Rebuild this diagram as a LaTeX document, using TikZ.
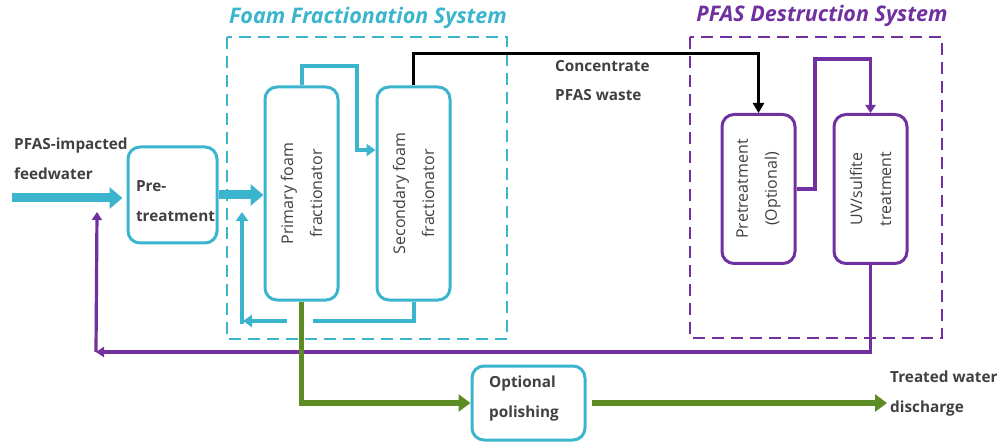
\documentclass[tikz,border=0pt]{standalone}
\usepackage{fontspec}
\setmainfont{Open Sans}
\usetikzlibrary{arrows.meta}
\definecolor{tealc}{RGB}{59,181,206}
\definecolor{purp}{RGB}{112,48,160}
\definecolor{grn}{RGB}{92,140,35}
\definecolor{txt}{RGB}{64,64,64}
\begin{document}
\begin{tikzpicture}[x=1pt,y=-1pt,
  box/.style={draw, rounded corners=12pt, line width=3pt, inner sep=0pt, fill=white},
  tbox/.style={box, draw=tealc},
  pbox/.style={box, draw=purp},
  lbl/.style={text=txt, font=\fontsize{15.3}{29.5}\selectfont\bfseries, align=left, inner sep=0pt},
  rlbl/.style={text=txt, font=\fontsize{16}{29}\selectfont, align=center, inner sep=0pt, rotate=90},
  title/.style={font=\fontsize{21.5}{24}\selectfont\bfseries\itshape, inner sep=0pt},
  sysbox/.style={line width=2.8pt, dash pattern=on 12pt off 7pt},
  thickteal/.style={draw=tealc, line width=9pt, -{Triangle[length=13pt,width=21pt]}},
  tline/.style={draw=tealc, line width=4pt},
  tarrow/.style={tline, -{Triangle[length=9pt,width=12pt]}},
  pline/.style={draw=purp, line width=3.2pt},
  parrow/.style={pline, -{Triangle[length=8pt,width=10pt]}},
  garrow/.style={draw=grn, line width=5.5pt, -{Triangle[length=12pt,width=17pt]}},
  barrow/.style={draw=black, line width=3pt, -{Triangle[length=10pt,width=11pt]}}
]
\useasboundingbox (0,0) rectangle (1000,443);

% system boxes
\draw[sysbox, draw=tealc] (227,37) rectangle (507,339);
\draw[sysbox, draw=purp] (690,37) rectangle (942,338);
\node[title, text=tealc] (ftitle) at (368,18) {Foam Fractionation System};
\node[title, text=purp] (ptitle) at (822,16) {PFAS Destruction System};

% process boxes
\node[tbox, minimum width=89pt, minimum height=96pt] (pt) at (172.5,195) {};
\node[tbox, minimum width=73pt, minimum height=213pt] (pf) at (301.5,193.5) {};
\node[tbox, minimum width=73pt, minimum height=213pt] (sf) at (413.5,193.5) {};
\node[pbox, minimum width=73pt, minimum height=149pt] (pto) at (758.5,189) {};
\node[pbox, minimum width=73pt, minimum height=149pt] (uv) at (870.5,189) {};
\node[tbox, minimum width=113pt, minimum height=74pt] (pol) at (528.5,403) {};

% box texts
\node[lbl, text width=82pt] (pttxt) at (177,201) {Pre-\\treatment};
\node[rlbl] (pftxt) at (pf.center) {Primary foam\\fractionator};
\node[rlbl] (sftxt) at (sf.center) {Secondary foam\\fractionator};
\node[rlbl] (ptotxt) at (pto.center) {Pretreatment\\(Optional)};
\node[rlbl] (uvtxt) at (uv.center) {UV/sulfite\\treatment};
\node[lbl, anchor=north west] (poltxt) at (489,376) {Optional\\polishing};

% free labels
\node[lbl, anchor=north west] (feedtxt) at (14,138) {PFAS-impacted\\feedwater};
\node[lbl, anchor=north west] (conctxt) at (555,60) {Concentrate\\PFAS waste};
\node[lbl, anchor=north west] (outtxt) at (890,371) {Treated water\\discharge};

% coordinates
\coordinate (fin) at (12,198);
\coordinate (ret) at (96,352);
\coordinate (retup) at (97,212);
\coordinate (rc) at (243,321);
\coordinate (rcup) at (242,212);
\coordinate (gapr) at (313,321);
\coordinate (gapl) at (287,321);
\coordinate (tout) at (887,403);

% purple return (below green)
\draw[parrow] (uv.south) |- (ret);
\draw[parrow] (ret) -- (retup);

% feed and pretreatment arrows
\draw[thickteal] (fin) -- ([xshift=-4pt]fin -| pt.west);
\draw[thickteal] (pt.east) -- (pt.east -| pf.west);

% primary -> secondary
\draw[tarrow] (pf.north) -- ++(0,-19) -| (357,150) -- (sf.west |- 357,150);

% recycle from secondary
\draw[tline] (sf.south) |- (gapr);
\draw[tarrow] (gapl) -- (rc);
\draw[tarrow] ([yshift=-3pt]rc -| rcup) -- (rcup);

% concentrate
\draw[barrow] (sf.north) -- ++(0,-32) -| (pto.north);

% destruction chain
\draw[parrow] (pto.east) -| (815,59) -| (uv.north);

% green
\draw[garrow] (pf.south) |- (pol.west);
\draw[garrow] ([xshift=5pt]pol.east) -- (tout);
\end{tikzpicture}
\end{document}
